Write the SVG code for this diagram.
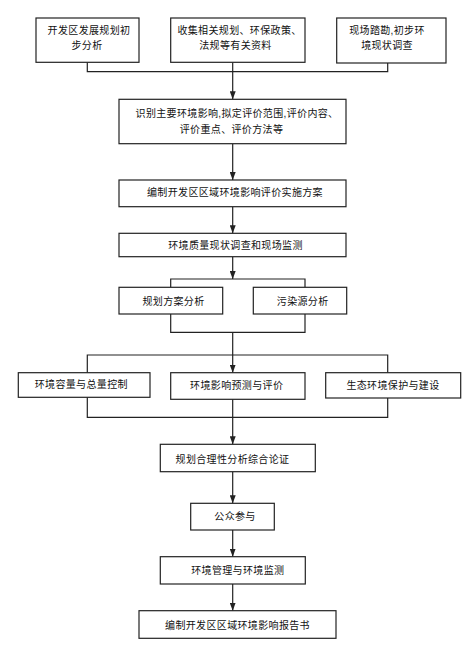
<svg xmlns="http://www.w3.org/2000/svg" width="476" height="647" viewBox="0 0 476 647">
<style>
.box{fill:#fff;stroke:#222;stroke-width:1.2}
.t{font-family:"Liberation Sans","Noto Sans CJK SC",sans-serif;font-size:10px;letter-spacing:0.35px;fill:#111;text-anchor:middle}
.c{fill:none;stroke:#222;stroke-width:1.2}
</style>
<defs>
<marker id="ar" markerUnits="userSpaceOnUse" markerWidth="8" markerHeight="6" refX="8" refY="3" orient="auto">
<path d="M0,0 L8,3 L0,6 z" fill="#222"/>
</marker>
</defs>
<rect width="476" height="647" fill="#fff"/>
<g id="connectors">
<path class="c" d="M87.3,62.3 V71.7 H387.7 V63"/>
<path class="c" d="M232.7,62.3 V99.3" marker-end="url(#ar)"/>
<path class="c" d="M232.7,143.7 V180" marker-end="url(#ar)"/>
<path class="c" d="M232.7,206.7 V233.3" marker-end="url(#ar)"/>
<path class="c" d="M232.7,256.7 V279" marker-end="url(#ar)"/>
<path class="c" d="M170.7,287.3 V279 H305 V287.3"/>
<path class="c" d="M170.7,314 V332.3 H305 V314"/>
<path class="c" d="M232.7,332.3 V372.7" marker-end="url(#ar)"/>
<path class="c" d="M87.3,372.7 V355 H387.7 V372.7"/>
<path class="c" d="M87.3,397.3 V417.3 H387.7 V398"/>
<path class="c" d="M232.7,399.3 V444.3" marker-end="url(#ar)"/>
<path class="c" d="M232.7,471.7 V503.3" marker-end="url(#ar)"/>
<path class="c" d="M232.7,530 V556.7" marker-end="url(#ar)"/>
<path class="c" d="M232.7,584 V610.7" marker-end="url(#ar)"/>
</g>
<g id="n1"><rect class="box" x="36" y="18" width="103" height="44.3"/>
<text class="t" x="89" y="33.5">开发区发展规划初</text><text class="t" x="87" y="48.5">步分析</text></g>
<g id="n2"><rect class="box" x="170.7" y="18" width="134.3" height="44.3"/>
<text class="t" x="239.5" y="33.5">收集相关规划、环保政策、</text><text class="t" x="235.5" y="48.5">法规等有关资料</text></g>
<g id="n3"><rect class="box" x="336.7" y="18" width="109.3" height="45"/>
<text class="t" x="387" y="33.5">现场踏勘,初步环</text><text class="t" x="387" y="48.5">境现状调查</text></g>
<g id="n4"><rect class="box" x="119" y="99.3" width="227" height="44.4"/>
<text class="t" x="237" y="117">识别主要环境影响,拟定评价范围,评价内容、</text><text class="t" x="231.5" y="133">评价重点、评价方法等</text></g>
<g id="n5"><rect class="box" x="119" y="180" width="227" height="26.7"/>
<text class="t" x="235" y="196.4">编制开发区区域环境影响评价实施方案</text></g>
<g id="n6"><rect class="box" x="119" y="233.3" width="227" height="23.4"/>
<text class="t" x="235.5" y="249.2">环境质量现状调查和现场监测</text></g>
<g id="n7"><rect class="box" x="119" y="287.3" width="103.7" height="26.7"/>
<text class="t" x="173.5" y="304.6">规划方案分析</text></g>
<g id="n8"><rect class="box" x="253.3" y="287.3" width="93.4" height="26.7"/>
<text class="t" x="302.7" y="304.6">污染源分析</text></g>
<g id="n9"><rect class="box" x="18.3" y="372.7" width="131.7" height="24.6"/>
<text class="t" x="81.3" y="388">环境容量与总量控制</text></g>
<g id="n10"><rect class="box" x="170.7" y="372.7" width="134.3" height="26.6"/>
<text class="t" x="236.7" y="389.3">环境影响预测与评价</text></g>
<g id="n11"><rect class="box" x="325.7" y="372.7" width="135" height="25.3"/>
<text class="t" x="393" y="389">生态环境保护与建设</text></g>
<g id="n12"><rect class="box" x="160.3" y="444.3" width="155" height="27.4"/>
<text class="t" x="232.5" y="462.6">规划合理性分析综合论证</text></g>
<g id="n13"><rect class="box" x="190.7" y="503.3" width="83.6" height="26.7"/>
<text class="t" x="235" y="520.3">公众参与</text></g>
<g id="n14"><rect class="box" x="160.3" y="556.7" width="145" height="27.3"/>
<text class="t" x="237.8" y="573.6">环境管理与环境监测</text></g>
<g id="n15"><rect class="box" x="139" y="610.7" width="197" height="27.6"/>
<text class="t" x="237.5" y="628.6">编制开发区区域环境影响报告书</text></g>
</svg>
